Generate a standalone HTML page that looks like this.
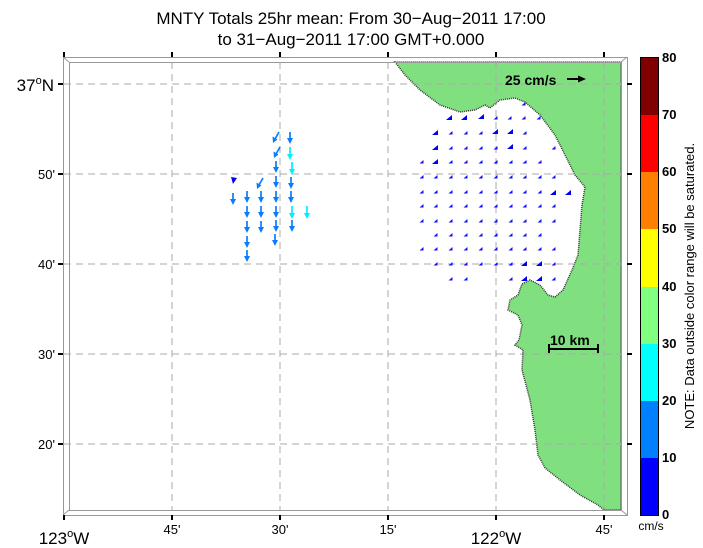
<!DOCTYPE html>
<html><head><meta charset="utf-8"><style>
html,body{margin:0;padding:0;background:#fff;}
svg{display:block;font-family:"Liberation Sans",sans-serif;}
</style></head><body>
<svg width="703" height="548" viewBox="0 0 703 548" xmlns="http://www.w3.org/2000/svg" xmlns:xlink="http://www.w3.org/1999/xlink">
<defs>
<path id="t" d="M-2.5,1.5 L1.5,-2 L1.5,1.5 Z" fill="#1010ff"/>
<path id="T" d="M-4,2 L2,-3 L2,2 Z" fill="#0000ee"/>
<g id="d"><line x1="0" y1="0" x2="0" y2="7" stroke="#0a7cff" stroke-width="1.7"/><path d="M0,12 L-3,6 L3,6 Z" fill="#0a7cff"/></g>
<g id="c"><line x1="0" y1="0" x2="0" y2="8" stroke="#00eeff" stroke-width="1.7"/><path d="M0,13 L-3,7 L3,7 Z" fill="#00eeff"/></g>
<g id="sw"><line x1="0" y1="0" x2="-4" y2="7" stroke="#0a7cff" stroke-width="1.7"/><path d="M-6,11 L-6.5,4.5 L-1.5,7.5 Z" fill="#0a7cff"/></g>
</defs>
<text x="351" y="24" font-size="17" text-anchor="middle">MNTY Totals 25hr mean: From 30−Aug−2011 17:00</text>
<text x="351" y="45" font-size="17" text-anchor="middle">to 31−Aug−2011 17:00 GMT+0.000</text>
<!-- land -->
<path d="M395,62 L405,75 L420,90 L440,105 L460,112 L475,110 L485,105 L490,108 L500,100 L515,98 L525,102 L540,115 L555,135 L565,155 L575,175 L585,187 L582,205 L580,230 L578,255 L572,270 L563,290 L555,297 L548,295 L540,285 L530,280 L522,284 L518,295 L510,300 L508,310 L518,315 L522,325 L519,340 L515,345 L523,350 L522,370 L530,400 L535,430 L538,455 L545,468 L560,480 L580,495 L598,505 L604,510 L621,510 L621,62 Z" fill="#80e080" stroke="#333" stroke-width="1.5" stroke-dasharray="1 1"/>
<!-- grid -->
<g stroke="#aaa" stroke-dasharray="7 5" stroke-width="1">
<line x1="172" y1="62" x2="172" y2="510"/><line x1="280" y1="62" x2="280" y2="510"/><line x1="388" y1="62" x2="388" y2="510"/><line x1="496" y1="62" x2="496" y2="510"/><line x1="604" y1="62" x2="604" y2="510"/>
<line x1="64" y1="84" x2="621" y2="84"/><line x1="64" y1="174" x2="621" y2="174"/><line x1="64" y1="264" x2="621" y2="264"/><line x1="64" y1="354" x2="621" y2="354"/><line x1="64" y1="444" x2="621" y2="444"/>
</g>
<!-- frame -->
<g fill="none" stroke="#999" stroke-width="1">
<rect x="63.5" y="57.5" width="564" height="458"/>
<rect x="69.5" y="62.5" width="552" height="448"/>
<line x1="63" y1="57" x2="69" y2="62"/><line x1="627" y1="57" x2="621" y2="62"/><line x1="63" y1="515" x2="69" y2="510"/><line x1="627" y1="515" x2="621" y2="510"/>
</g>
<g stroke="#000" stroke-width="2">
<line x1="64" y1="515" x2="64" y2="520"/><line x1="172" y1="515" x2="172" y2="520"/><line x1="280" y1="515" x2="280" y2="520"/><line x1="388" y1="515" x2="388" y2="520"/><line x1="496" y1="515" x2="496" y2="520"/><line x1="604" y1="515" x2="604" y2="520"/>
<line x1="64" y1="52" x2="64" y2="57"/><line x1="172" y1="52" x2="172" y2="57"/><line x1="280" y1="52" x2="280" y2="57"/><line x1="388" y1="52" x2="388" y2="57"/><line x1="496" y1="52" x2="496" y2="57"/><line x1="604" y1="52" x2="604" y2="57"/>
<line x1="58" y1="84" x2="63" y2="84"/><line x1="58" y1="174" x2="63" y2="174"/><line x1="58" y1="264" x2="63" y2="264"/><line x1="58" y1="354" x2="63" y2="354"/><line x1="58" y1="444" x2="63" y2="444"/>
<line x1="627" y1="84" x2="632" y2="84"/><line x1="627" y1="174" x2="632" y2="174"/><line x1="627" y1="264" x2="632" y2="264"/><line x1="627" y1="354" x2="632" y2="354"/><line x1="627" y1="444" x2="632" y2="444"/>
</g>
<g font-size="13" text-anchor="middle">
<text x="172" y="534">45'</text><text x="280" y="534">30'</text><text x="388" y="534">15'</text><text x="604" y="534">45'</text>
</g>
<text x="64" y="544" font-size="17" text-anchor="middle">123<tspan font-size="11" dy="-7">o</tspan><tspan dy="7">W</tspan></text>
<text x="496" y="544" font-size="17" text-anchor="middle">122<tspan font-size="11" dy="-7">o</tspan><tspan dy="7">W</tspan></text>
<text x="54" y="91" font-size="17" text-anchor="end">37<tspan font-size="11" dy="-7">o</tspan><tspan dy="7">N</tspan></text>
<g font-size="13" text-anchor="end">
<text x="55" y="179">50'</text><text x="55" y="269">40'</text><text x="55" y="359">30'</text><text x="55" y="449">20'</text>
</g>
<text x="505" y="85" font-size="14" font-weight="bold">25 cm/s</text>
<line x1="567" y1="79" x2="580" y2="79" stroke="#000" stroke-width="2"/><path d="M586,79 L578,75.5 L578,82.5 Z"/>
<text x="550" y="345" font-size="14" font-weight="bold">10 km</text>
<g stroke="#000" stroke-width="2"><line x1="549" y1="349" x2="598" y2="349"/><line x1="549" y1="344" x2="549" y2="353"/><line x1="598" y1="344" x2="598" y2="353"/></g>
<!-- west vectors -->
<path d="M231,177 L237,178 L233,184 Z" fill="#0000ee"/>
<use xlink:href="#d" x="233" y="193"/>
<use xlink:href="#d" x="247" y="191"/><use xlink:href="#d" x="247" y="206"/><use xlink:href="#d" x="247" y="221"/><use xlink:href="#d" x="247" y="236"/><use xlink:href="#d" x="247" y="250"/>
<use xlink:href="#sw" x="263" y="178"/><use xlink:href="#d" x="261" y="191"/><use xlink:href="#d" x="261" y="206"/><use xlink:href="#d" x="261" y="221"/>
<use xlink:href="#sw" x="279" y="132"/><use xlink:href="#sw" x="280" y="147"/>
<use xlink:href="#d" x="276" y="161"/><use xlink:href="#d" x="276" y="176"/><use xlink:href="#d" x="276" y="191"/><use xlink:href="#d" x="276" y="206"/><use xlink:href="#d" x="276" y="220"/><use xlink:href="#d" x="275" y="234"/>
<use xlink:href="#d" x="290" y="132"/><use xlink:href="#c" x="290" y="147"/><use xlink:href="#c" x="292" y="162"/>
<use xlink:href="#d" x="291" y="177"/><use xlink:href="#d" x="291" y="191"/><use xlink:href="#c" x="292" y="206"/><use xlink:href="#d" x="292" y="220"/>
<use xlink:href="#c" x="307" y="206"/>
<!-- east small vectors -->
<g>
<use xlink:href="#t" x="524" y="104"/>
<use xlink:href="#T" x="450" y="118"/><use xlink:href="#T" x="465" y="118"/><use xlink:href="#T" x="482" y="117"/><use xlink:href="#t" x="496" y="118"/><use xlink:href="#t" x="510" y="118"/><use xlink:href="#t" x="524" y="118"/><use xlink:href="#t" x="539" y="118"/>
<use xlink:href="#T" x="436" y="133"/><use xlink:href="#t" x="451" y="133"/><use xlink:href="#t" x="466" y="133"/><use xlink:href="#t" x="481" y="133"/><use xlink:href="#T" x="496" y="132"/><use xlink:href="#T" x="511" y="132"/><use xlink:href="#t" x="525" y="133"/>
<use xlink:href="#T" x="436" y="148"/><use xlink:href="#t" x="451" y="148"/><use xlink:href="#t" x="466" y="148"/><use xlink:href="#t" x="481" y="148"/><use xlink:href="#t" x="496" y="148"/><use xlink:href="#T" x="511" y="147"/><use xlink:href="#t" x="525" y="148"/><use xlink:href="#t" x="554" y="148"/>
<use xlink:href="#t" x="422" y="162"/><use xlink:href="#T" x="436" y="162"/><use xlink:href="#t" x="451" y="162"/><use xlink:href="#t" x="466" y="162"/><use xlink:href="#t" x="481" y="162"/><use xlink:href="#t" x="496" y="162"/><use xlink:href="#t" x="511" y="162"/><use xlink:href="#t" x="525" y="162"/><use xlink:href="#t" x="540" y="162"/>
<use xlink:href="#t" x="422" y="177"/><use xlink:href="#t" x="436" y="177"/><use xlink:href="#t" x="451" y="177"/><use xlink:href="#t" x="466" y="177"/><use xlink:href="#t" x="481" y="177"/><use xlink:href="#t" x="496" y="177"/><use xlink:href="#t" x="511" y="177"/><use xlink:href="#t" x="525" y="177"/><use xlink:href="#t" x="540" y="177"/><use xlink:href="#t" x="554" y="177"/>
<use xlink:href="#t" x="422" y="192"/><use xlink:href="#t" x="436" y="192"/><use xlink:href="#t" x="451" y="192"/><use xlink:href="#t" x="466" y="192"/><use xlink:href="#t" x="481" y="192"/><use xlink:href="#t" x="496" y="192"/><use xlink:href="#t" x="511" y="192"/><use xlink:href="#t" x="525" y="192"/><use xlink:href="#t" x="540" y="192"/><use xlink:href="#T" x="554" y="193"/><use xlink:href="#T" x="569" y="193"/>
<use xlink:href="#t" x="422" y="206"/><use xlink:href="#t" x="436" y="206"/><use xlink:href="#t" x="451" y="206"/><use xlink:href="#t" x="466" y="206"/><use xlink:href="#t" x="481" y="206"/><use xlink:href="#t" x="496" y="206"/><use xlink:href="#t" x="511" y="206"/><use xlink:href="#t" x="525" y="206"/><use xlink:href="#t" x="540" y="206"/><use xlink:href="#t" x="554" y="206"/>
<use xlink:href="#t" x="422" y="221"/><use xlink:href="#t" x="436" y="221"/><use xlink:href="#t" x="451" y="221"/><use xlink:href="#t" x="466" y="221"/><use xlink:href="#t" x="481" y="221"/><use xlink:href="#t" x="496" y="221"/><use xlink:href="#t" x="511" y="221"/><use xlink:href="#t" x="525" y="221"/><use xlink:href="#t" x="540" y="221"/><use xlink:href="#t" x="554" y="221"/>
<use xlink:href="#t" x="436" y="235"/><use xlink:href="#t" x="451" y="235"/><use xlink:href="#t" x="466" y="235"/><use xlink:href="#t" x="481" y="235"/><use xlink:href="#t" x="496" y="235"/><use xlink:href="#t" x="511" y="235"/><use xlink:href="#t" x="525" y="235"/><use xlink:href="#t" x="540" y="235"/>
<use xlink:href="#t" x="422" y="249"/><use xlink:href="#t" x="436" y="249"/><use xlink:href="#t" x="451" y="249"/><use xlink:href="#t" x="466" y="249"/><use xlink:href="#t" x="481" y="249"/><use xlink:href="#t" x="496" y="249"/><use xlink:href="#t" x="511" y="249"/><use xlink:href="#t" x="525" y="249"/><use xlink:href="#t" x="540" y="249"/><use xlink:href="#t" x="554" y="249"/>
<use xlink:href="#t" x="436" y="264"/><use xlink:href="#t" x="451" y="264"/><use xlink:href="#t" x="466" y="264"/><use xlink:href="#t" x="481" y="264"/><use xlink:href="#t" x="496" y="264"/><use xlink:href="#t" x="511" y="264"/><use xlink:href="#T" x="525" y="264"/><use xlink:href="#T" x="540" y="264"/><use xlink:href="#t" x="554" y="264"/>
<use xlink:href="#t" x="451" y="279"/><use xlink:href="#t" x="466" y="279"/><use xlink:href="#t" x="511" y="279"/><use xlink:href="#T" x="525" y="279"/><use xlink:href="#T" x="540" y="279"/><use xlink:href="#t" x="554" y="279"/>
</g>
<!-- colorbar -->
<g>
<rect x="640" y="458" width="18" height="57" fill="#0000ff"/>
<rect x="640" y="401" width="18" height="57" fill="#0080ff"/>
<rect x="640" y="344" width="18" height="57" fill="#00ffff"/>
<rect x="640" y="287" width="18" height="57" fill="#80ff80"/>
<rect x="640" y="229" width="18" height="58" fill="#ffff00"/>
<rect x="640" y="172" width="18" height="57" fill="#ff8000"/>
<rect x="640" y="115" width="18" height="57" fill="#ff0000"/>
<rect x="640" y="57" width="18" height="58" fill="#800000"/>
<rect x="640.5" y="57.5" width="18" height="458" fill="none" stroke="#000"/>
</g>
<g font-size="13" font-weight="bold">
<text x="662" y="519">0</text><text x="662" y="462">10</text><text x="662" y="405">20</text><text x="662" y="348">30</text><text x="662" y="291">40</text><text x="662" y="233">50</text><text x="662" y="176">60</text><text x="662" y="119">70</text><text x="662" y="62">80</text>
</g>
<text x="651" y="530" font-size="12" text-anchor="middle">cm/s</text>
<text transform="translate(694,286) rotate(-90)" font-size="13" text-anchor="middle">NOTE: Data outside color range will be saturated.</text>
</svg>
</body></html>
